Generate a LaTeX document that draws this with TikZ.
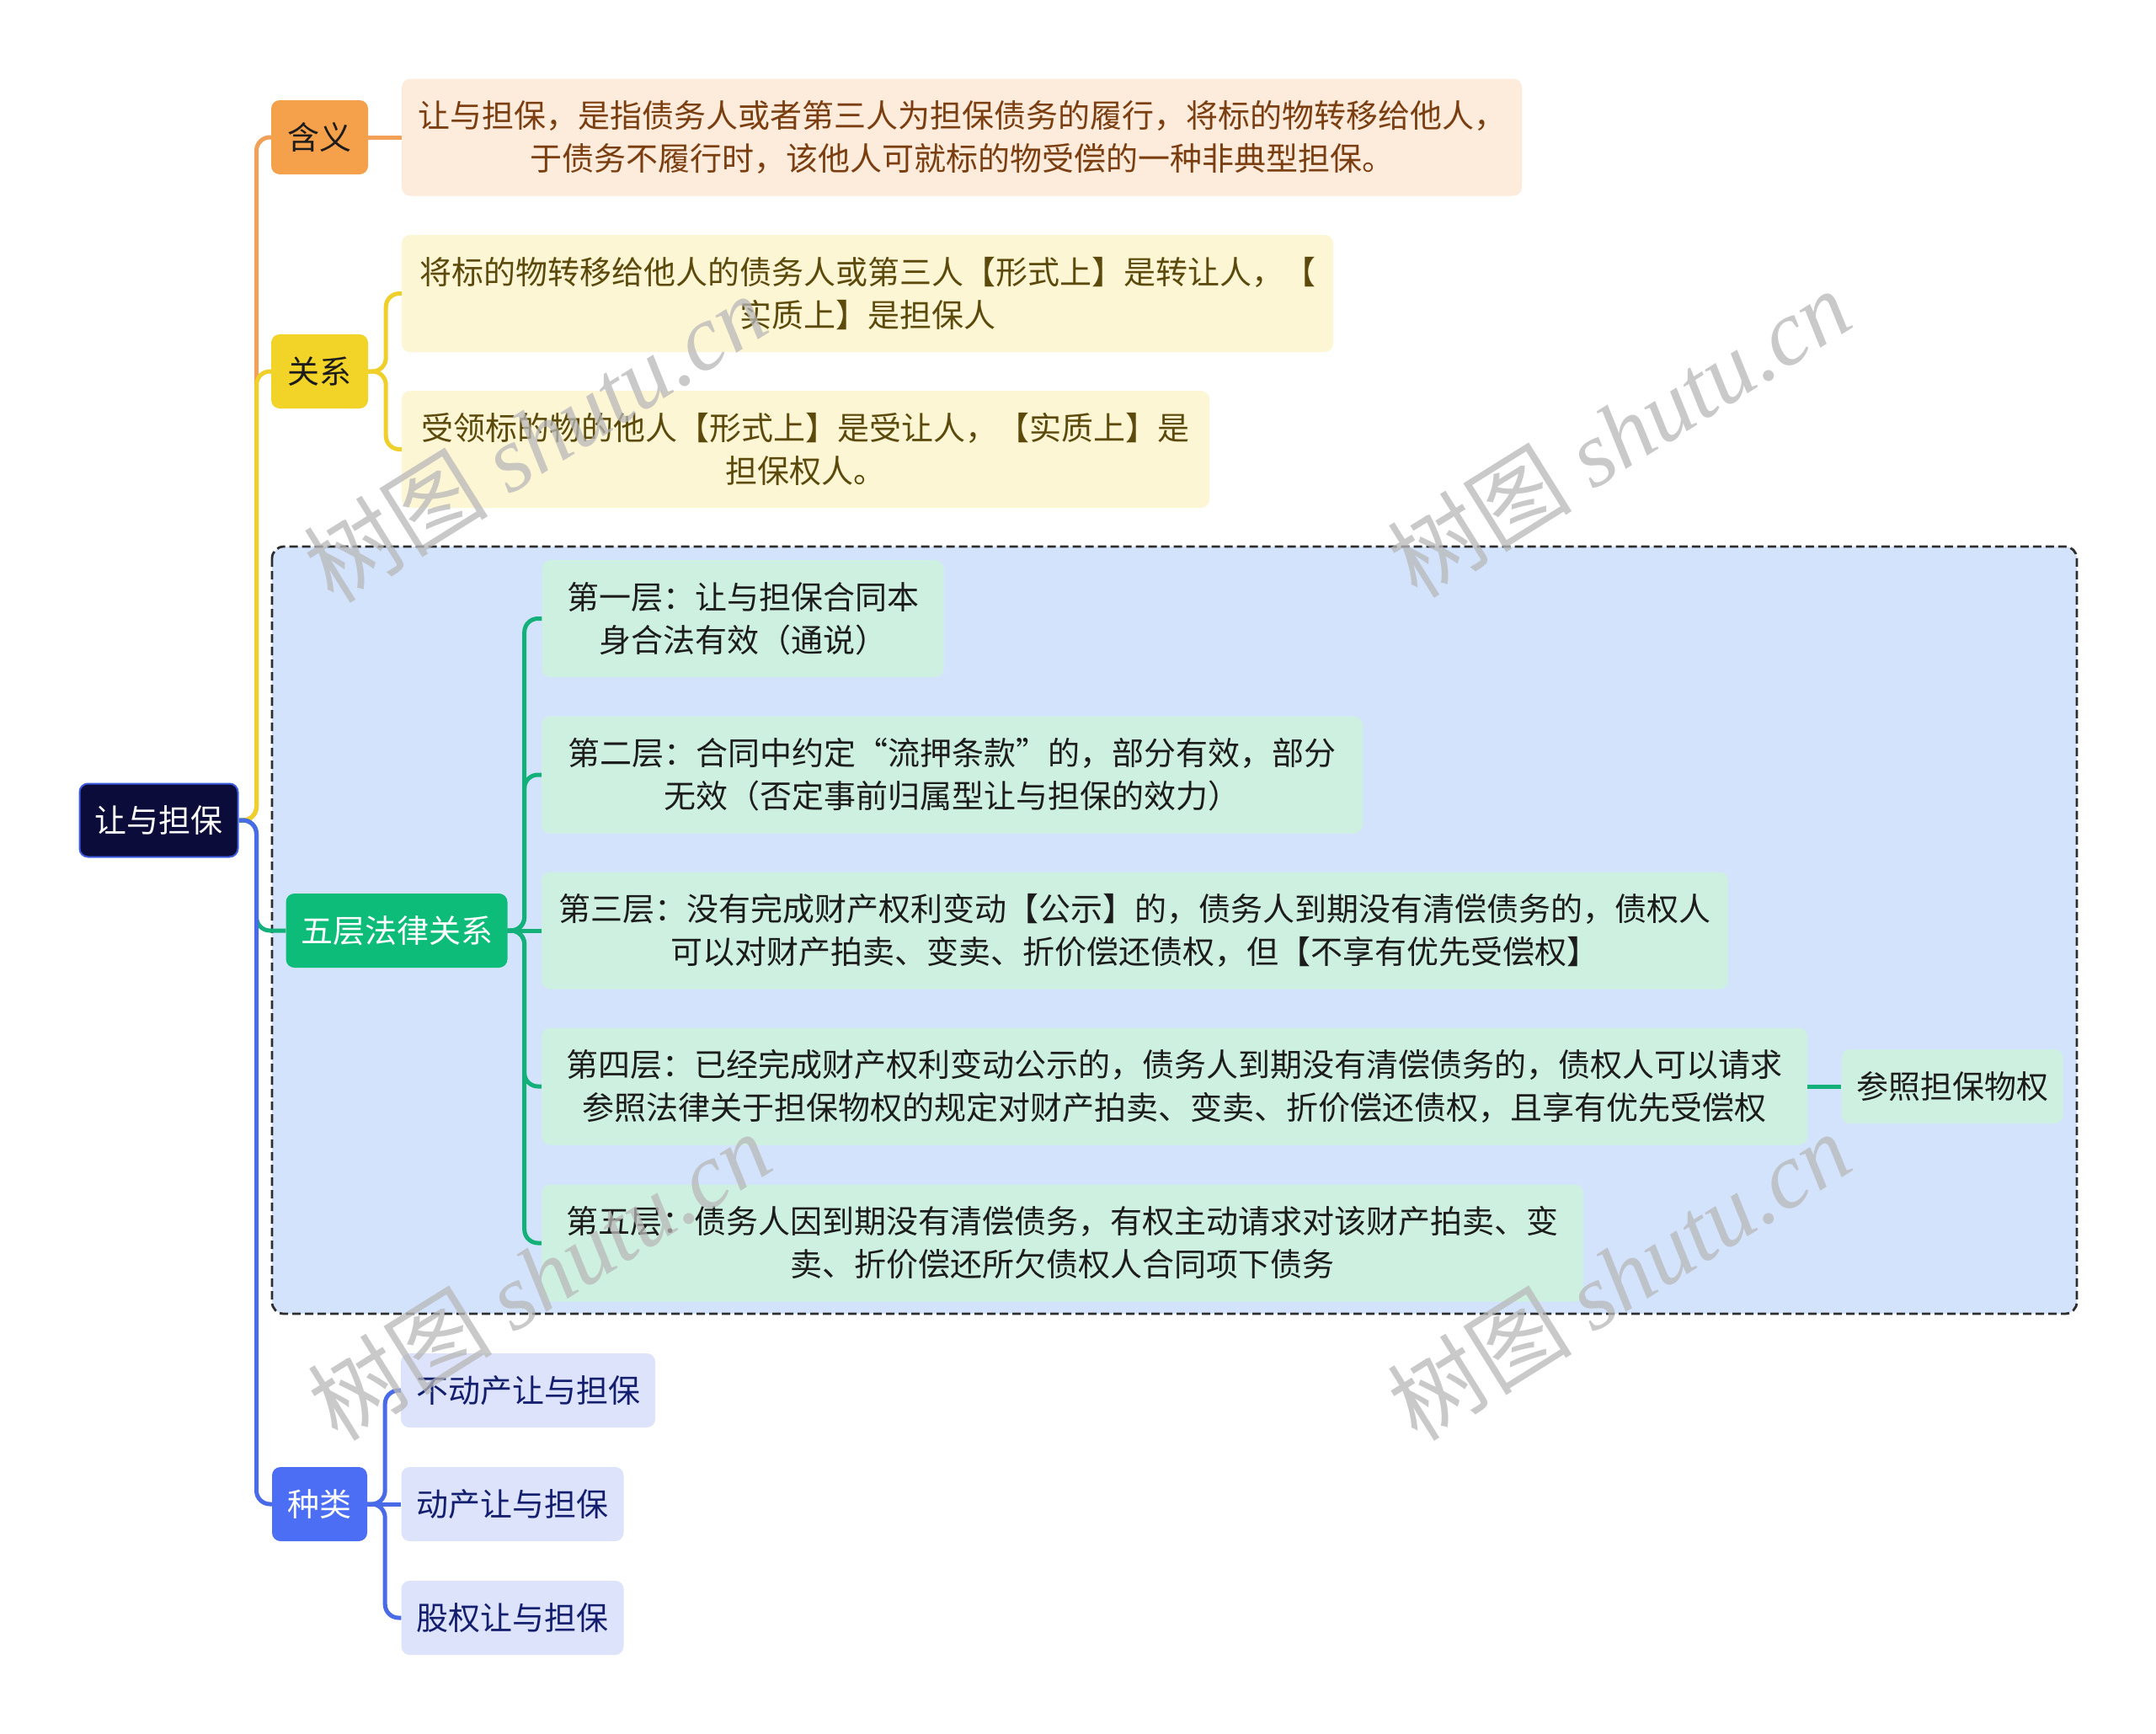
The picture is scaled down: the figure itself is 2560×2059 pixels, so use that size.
\documentclass[tikz,border=0pt]{standalone}
\usepackage{fontspec}
\setmainfont{Noto Sans CJK SC}
\newfontfamily\wmlatin{Liberation Serif}
\begin{document}
\begin{tikzpicture}[x=1pt,y=-1pt]
\definecolor{rootfill}{HTML}{0B0C3A}
\definecolor{rootborder}{HTML}{3D5BE0}
\definecolor{orangefill}{HTML}{F5A04B}
\definecolor{orangeline}{HTML}{F2A057}
\definecolor{peachfill}{HTML}{FDEBDC}
\definecolor{browntext}{HTML}{7A3E10}
\definecolor{yellowfill}{HTML}{F2D327}
\definecolor{yellowline}{HTML}{EFCF2A}
\definecolor{creamfill}{HTML}{FDF6D4}
\definecolor{olivetext}{HTML}{5C4A0C}
\definecolor{groupfill}{HTML}{D3E3FC}
\definecolor{groupline}{HTML}{2E2E2E}
\definecolor{greenfill}{HTML}{0DBC79}
\definecolor{greenline}{HTML}{13B07A}
\definecolor{mintfill}{HTML}{CEF0E1}
\definecolor{darktext}{HTML}{1C1C1C}
\definecolor{bluefill}{HTML}{4B6EF5}
\definecolor{blueline}{HTML}{4A6BE8}
\definecolor{lavfill}{HTML}{DCE3FA}
\definecolor{navytext}{HTML}{141E6E}
\definecolor{wmgray}{HTML}{B8B8B8}
\tikzset{
  box/.style={rounded corners=10pt, inner sep=0pt, align=center,
    font=\fontsize{38}{51}\selectfont},
  small/.style={box, minimum height=88pt},
  wide/.style={box, minimum height=139pt},
  conn/.style={line width=5pt, rounded corners=16pt},
  wmark/.style={rotate=32, text=wmgray, opacity=0.75,
    font=\fontsize{110}{110}\selectfont, inner sep=0pt}
}
\useasboundingbox (0,0) rectangle (2560,2059);
\fill[white] (0,0) rectangle (2560,2059);

% group background
\draw[groupline, fill=groupfill, line width=2.8pt, dash pattern=on 10pt off 5pt,
  rounded corners=14pt] (323,649) rectangle (2466,1560);

% nodes
\node[small, fill=rootfill, draw=rootborder, line width=2pt, text=white,
  minimum width=188pt, minimum height=87pt] (root) at (188.5,974) {让与担保};

\node[small, fill=orangefill, text=darktext, minimum width=115pt] (hanyi) at (379.5,163) {含义};
\node[wide, fill=peachfill, text=browntext, minimum width=1330pt] (meaning) at (1142,163)
  {让与担保，是指债务人或者第三人为担保债务的履行，将标的物转移给他人，\\于债务不履行时，该他人可就标的物受偿的一种非典型担保。};

\node[small, fill=yellowfill, text=darktext, minimum width=115pt] (guanxi) at (379.5,441) {关系};
\node[wide, fill=creamfill, text=olivetext, minimum width=1106pt] (rel1) at (1030,348.5)
  {将标的物转移给他人的债务人或第三人【形式上】是转让人，【\\实质上】是担保人};
\node[wide, fill=creamfill, text=olivetext, minimum width=959pt] (rel2) at (956.5,533.5)
  {受领标的物的他人【形式上】是受让人，【实质上】是\\担保权人。};

\node[small, fill=greenfill, text=white, minimum width=263pt] (wuceng) at (471,1105) {五层法律关系};
\node[wide, fill=mintfill, text=darktext, minimum width=477pt] (l1) at (882,734.5)
  {第一层：让与担保合同本\\身合法有效（通说）};
\node[wide, fill=mintfill, text=darktext, minimum width=975pt] (l2) at (1130.5,920)
  {第二层：合同中约定“流押条款”的，部分有效，部分\\无效（否定事前归属型让与担保的效力）};
\node[wide, fill=mintfill, text=darktext, minimum width=1409pt] (l3) at (1347.5,1105)
  {第三层：没有完成财产权利变动【公示】的，债务人到期没有清偿债务的，债权人\\可以对财产拍卖、变卖、折价偿还债权，但【不享有优先受偿权】};
\node[wide, fill=mintfill, text=darktext, minimum width=1503pt] (l4) at (1394.5,1290)
  {第四层：已经完成财产权利变动公示的，债务人到期没有清偿债务的，债权人可以请求\\参照法律关于担保物权的规定对财产拍卖、变卖、折价偿还债权，且享有优先受偿权};
\node[small, fill=mintfill, text=darktext, minimum width=263pt] (canzhao) at (2318,1290) {参照担保物权};
\node[wide, fill=mintfill, text=darktext, minimum width=1237pt] (l5) at (1261.5,1476)
  {第五层：债务人因到期没有清偿债务，有权主动请求对该财产拍卖、变\\卖、折价偿还所欠债权人合同项下债务};

\node[small, fill=bluefill, text=white, minimum width=113pt] (zhonglei) at (379.5,1786) {种类};
\node[small, fill=lavfill, text=navytext, minimum width=302pt] (t1) at (627,1651) {不动产让与担保};
\node[small, fill=lavfill, text=navytext, minimum width=264pt] (t2) at (608.5,1786) {动产让与担保};
\node[small, fill=lavfill, text=navytext, minimum width=264pt] (t3) at (608.5,1921) {股权让与担保};

% connectors from root
\draw[conn, orangeline] (root.east) -- ++(21,0) |- (hanyi.west);
\draw[conn, yellowline] (root.east) -- ++(21,0) |- (guanxi.west);
\draw[conn, greenline] (root.east) -- ++(21,0) |- (wuceng.west);
\draw[conn, blueline] (root.east) -- ++(21,0) |- (zhonglei.west);

% sub connectors
\draw[conn, orangeline] (hanyi.east) -- (meaning.west);
\draw[conn, yellowline] (guanxi.east) -- ++(21,0) |- (rel1.west);
\draw[conn, yellowline] (guanxi.east) -- ++(21,0) |- (rel2.west);
\draw[conn, greenline] (wuceng.east) -- ++(20,0) |- (l1.west);
\draw[conn, greenline] (wuceng.east) -- ++(20,0) |- (l2.west);
\draw[conn, greenline] (wuceng.east) -- (l3.west);
\draw[conn, greenline] (wuceng.east) -- ++(20,0) |- (l4.west);
\draw[conn, greenline] (wuceng.east) -- ++(20,0) |- (l5.west);
\draw[conn, greenline] (l4.east) -- (canzhao.west);
\draw[conn, blueline] (zhonglei.east) -- ++(21,0) |- (t1.west);
\draw[conn, blueline] (zhonglei.east) -- (t2.west);
\draw[conn, blueline] (zhonglei.east) -- ++(21,0) |- (t3.west);

% watermarks
\node[wmark] (wm1) at (635,520) {树图 {\wmlatin\itshape shutu.cn}};
\node[wmark] (wm2) at (1922,514) {树图 {\wmlatin\itshape shutu.cn}};
\node[wmark] (wm3) at (640,1515) {树图 {\wmlatin\itshape shutu.cn}};
\node[wmark] (wm4) at (1922,1515) {树图 {\wmlatin\itshape shutu.cn}};
\end{tikzpicture}
\end{document}
